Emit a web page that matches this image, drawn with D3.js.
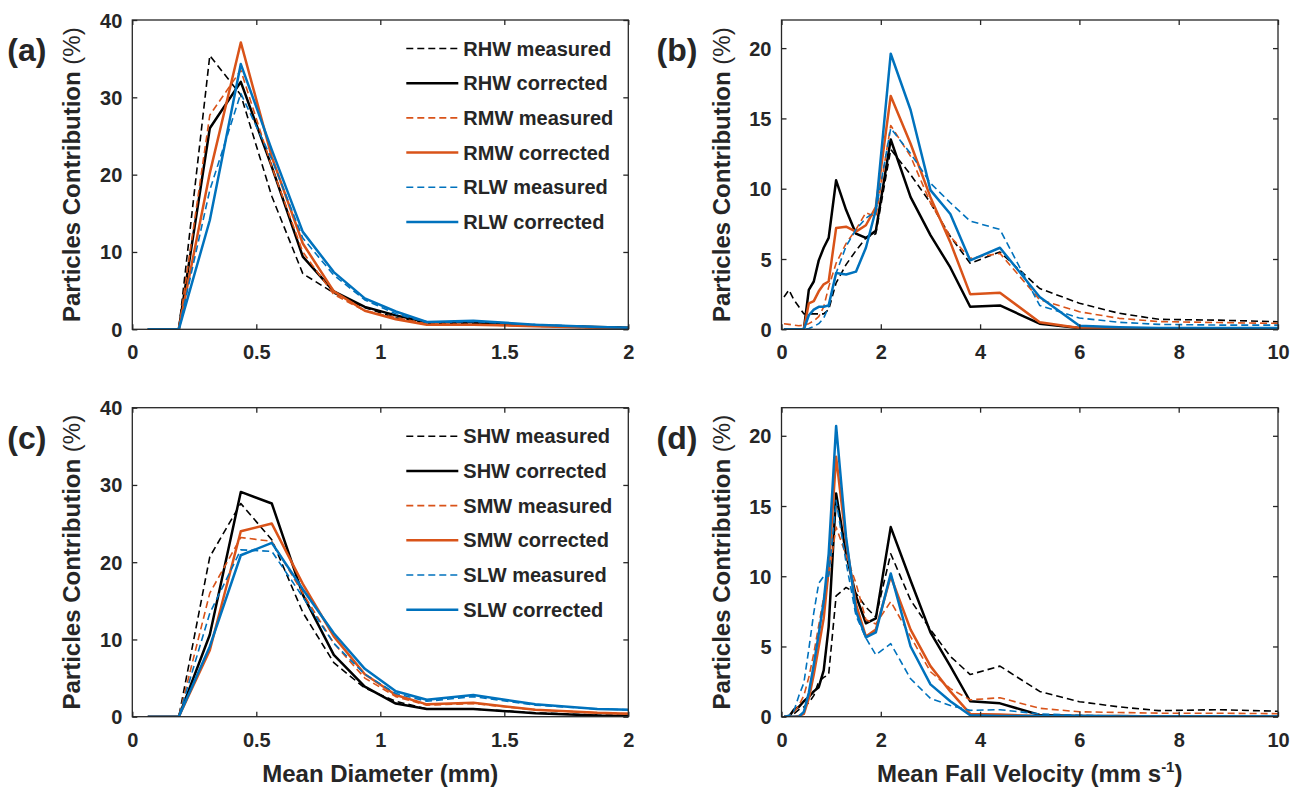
<!DOCTYPE html>
<html><head><meta charset="utf-8">
<script src="https://cdn.jsdelivr.net/npm/d3@7"></script>
<style>
html,body{margin:0;padding:0;background:#fff;}
svg text{font-family:Arial,"Liberation Sans",sans-serif;font-weight:bold;fill:#262626;}
</style></head>
<body>
<svg id="chart" width="1301" height="792"></svg>
<script>
// ---------- data ----------
const diameterClasses = [0.0625,0.1875,0.3125,0.4375,0.5625,0.6875,0.8125,0.9375,1.0625,1.1875,1.375,1.625,1.875,2.125];
const velocityClasses = [0.05,0.15,0.25,0.35,0.45,0.55,0.65,0.75,0.85,0.95,1.1,1.3,1.5,1.7,1.9,2.2,2.6,3.0,3.4,3.8,4.4,5.2,6.0,6.8,7.6,8.8,10.4];

const diameterTicks = [0,0.5,1,1.5,2];
const velocityTicks = [0,2,4,6,8,10];
const diameterYTicks = [0,10,20,30,40];
const velocityYTicks = [0,5,10,15,20];

// (a) rain, diameter
const rainNames = ["RHW measured","RHW corrected","RMW measured","RMW corrected","RLW measured","RLW corrected"];
const rhwMeasuredD  = [0,0,35.4,30.3,17.2,7.2,4.7,2.8,1.5,0.8,0.8,0.5,0.3,0.1];
const rhwCorrectedD = [0,0,26.0,32.0,21.0,9.4,4.9,2.9,1.8,0.9,0.9,0.5,0.3,0.1];
const rmwMeasuredD  = [0,0,27.7,33.5,21.0,10.0,4.5,2.4,1.5,0.7,0.6,0.4,0.2,0.1];
const rmwCorrectedD = [0,0,20.2,37.1,22.3,11.1,4.9,2.4,1.3,0.6,0.6,0.4,0.2,0.1];
const rlwMeasuredD  = [0,0,18.0,30.5,22.0,11.8,7.0,3.8,2.0,0.9,1.0,0.6,0.3,0.1];
const rlwCorrectedD = [0,0,14.1,34.3,23.2,12.6,7.4,4.0,2.3,0.95,1.1,0.6,0.3,0.1];

// (b) rain, fall velocity
const rhwMeasuredV  = [2.3,2.8,2.1,1.6,1.1,1.1,1.1,1.1,1.1,1.4,3.3,4.6,5.6,6.5,6.8,12.8,11.0,9.0,6.6,4.7,5.5,2.9,1.85,1.14,0.71,0.65,0.5];
const rhwCorrectedV = [0,0,0,0,0,2.8,3.4,4.9,5.8,6.5,10.6,8.5,6.8,6.5,7.0,13.5,9.4,6.7,4.4,1.6,1.7,0.4,0.1,0.05,0.05,0.05,0.05];
const rmwMeasuredV  = [0.4,0.35,0.3,0.25,0.3,0.4,0.6,0.9,1.6,3.0,4.7,6.1,7.1,8.3,8.0,14.5,12.3,9.0,6.6,5.05,5.4,2.1,1.25,0.78,0.55,0.48,0.4];
const rmwCorrectedV = [0,0,0,0,0,1.85,2.0,2.7,3.2,3.4,7.2,7.3,6.95,7.4,8.7,16.6,13.2,9.4,6.2,2.5,2.6,0.5,0.1,0.05,0.05,0.05,0.05];
const rlwMeasuredV  = [0,0,0,0,0,0.05,0.2,0.4,0.8,1.6,4.0,5.9,7.1,7.9,8.4,14.3,12.5,10.4,9.0,7.7,7.1,1.7,0.8,0.5,0.35,0.3,0.3];
const rlwCorrectedV = [0,0,0,0,0,1.0,1.4,1.6,1.6,1.7,4.0,3.9,4.1,5.8,8.5,19.6,15.6,9.9,8.2,4.9,5.8,2.3,0.25,0.15,0.1,0.1,0.1];

// (c) snow, diameter
const snowNames = ["SHW measured","SHW corrected","SMW measured","SMW corrected","SLW measured","SLW corrected"];
const shwMeasuredD  = [0,0,20.7,27.6,22.9,13.5,7.0,3.7,2.0,1.0,1.0,0.5,0.2,0.1];
const shwCorrectedD = [0,0,10.6,29.1,27.6,15.8,8.0,3.9,1.7,1.0,1.0,0.45,0.15,0.05];
const smwMeasuredD  = [0,0,16.0,23.2,22.7,16.0,9.5,5.0,2.6,1.5,1.7,0.9,0.5,0.3];
const smwCorrectedD = [0,0,8.6,24.0,25.0,17.2,10.4,5.5,2.8,1.6,1.8,0.9,0.5,0.3];
const slwMeasuredD  = [0,0,13.4,21.6,21.4,15.5,9.5,5.5,3.0,2.0,2.6,1.5,1.0,0.8];
const slwCorrectedD = [0,0,9.1,20.9,22.5,16.5,10.8,6.2,3.3,2.2,2.8,1.6,1.0,0.8];

// (d) snow, fall velocity
const shwMeasuredV  = [0,0,0.2,0.5,0.7,1.0,1.5,2.5,2.8,3.0,8.6,9.2,8.8,7.8,7.1,11.6,8.3,6.2,4.3,3.0,3.6,1.8,1.07,0.7,0.43,0.5,0.35];
const shwCorrectedV = [0,0,0.5,0.7,1.1,1.4,1.8,2.1,3.3,6.4,15.9,11.6,8.6,6.65,7.0,13.5,9.7,6.0,3.6,1.1,0.95,0.12,0.05,0.05,0.02,0.02,0.02];
const smwMeasuredV  = [0,0.1,0.3,0.8,1.5,2.8,4.5,6.5,8.5,10.0,13.5,11.5,9.5,6.9,6.6,8.2,5.7,3.2,2.0,1.2,1.35,0.6,0.35,0.3,0.25,0.25,0.2];
const smwCorrectedV = [0,0,0,0.05,0.2,1.3,3.0,5.0,7.0,10.5,18.5,12.5,8.0,5.7,6.2,10.0,6.2,3.6,1.8,0.2,0.15,0.05,0.05,0.02,0.02,0.02,0.02];
const slwMeasuredV  = [0,0.1,0.4,1.5,2.4,4.8,7.4,9.5,10.0,10.0,15.4,11.0,7.2,5.6,4.4,5.2,2.7,1.3,0.8,0.45,0.5,0.2,0.1,0.05,0.05,0.05,0.05];
const slwCorrectedV = [0,0,0,0,0.35,1.7,3.7,5.9,8.2,11.6,20.7,12.8,7.5,5.65,6.0,10.2,5.0,2.3,1.1,0.1,0.05,0.05,0.05,0.02,0.02,0.02,0.02];

// ---------- styles ----------
const seriesColors = ["#000000","#000000","#D95319","#D95319","#0072BD","#0072BD"];
const seriesDashed = [true,false,true,false,true,false];

const svg = d3.select("#chart");
const font = {tick:20, title:24, legend:20, panel:32};

const panels = [
  {id:"a", box:[132.3,628.3,20,329.3], xd:[0,2], yd:[0,40], xt:diameterTicks, yt:diameterYTicks, xs:diameterClasses,
   data:[rhwMeasuredD,rhwCorrectedD,rmwMeasuredD,rmwCorrectedD,rlwMeasuredD,rlwCorrectedD], names:rainNames, legend:true},
  {id:"b", box:[781.5,1278,20,329.3], xd:[0,10], yd:[0,22], xt:velocityTicks, yt:velocityYTicks, xs:velocityClasses,
   data:[rhwMeasuredV,rhwCorrectedV,rmwMeasuredV,rmwCorrectedV,rlwMeasuredV,rlwCorrectedV], names:rainNames, legend:false},
  {id:"c", box:[132.3,628.3,407.7,716.7], xd:[0,2], yd:[0,40], xt:diameterTicks, yt:diameterYTicks, xs:diameterClasses,
   data:[shwMeasuredD,shwCorrectedD,smwMeasuredD,smwCorrectedD,slwMeasuredD,slwCorrectedD], names:snowNames, legend:true, xtitle:"diam"},
  {id:"d", box:[781.5,1278,407.7,716.7], xd:[0,10], yd:[0,22], xt:velocityTicks, yt:velocityYTicks, xs:velocityClasses,
   data:[shwMeasuredV,shwCorrectedV,smwMeasuredV,smwCorrectedV,slwMeasuredV,slwCorrectedV], names:snowNames, legend:false, xtitle:"vel"}
];

const axisColor = "#262626";

panels.forEach(p => {
  const [L,R,T,B] = p.box;
  const x = d3.scaleLinear().domain(p.xd).range([L,R]);
  const y = d3.scaleLinear().domain(p.yd).range([B,T]);
  const g = svg.append("g");

  const clipId = "clip-"+p.id;
  svg.append("clipPath").attr("id",clipId).append("rect")
    .attr("x",L).attr("y",T-2).attr("width",R-L).attr("height",B-T+2);

  // lines
  const line = d3.line().x((d,i)=>x(p.xs[i])).y(d=>y(d));
  const lg = g.append("g").attr("clip-path","url(#"+clipId+")");
  p.data.forEach((s,k) => {
    lg.append("path").datum(s)
      .attr("d",line)
      .attr("fill","none")
      .attr("stroke",seriesColors[k])
      .attr("stroke-width",seriesDashed[k]?1.6:2.5)
      .attr("stroke-dasharray",seriesDashed[k]?"7,4":null)
      .attr("stroke-linejoin","round");
  });

  // box
  g.append("rect").attr("x",L).attr("y",T).attr("width",R-L).attr("height",B-T)
    .attr("fill","none").attr("stroke",axisColor).attr("stroke-width",1.3);

  // axes with inward ticks (mirrored)
  const tl = 5;
  const fmt = d3.format("~g");
  const xb = g.append("g").attr("transform",`translate(0,${B})`)
    .call(d3.axisBottom(x).tickValues(p.xt).tickSize(-tl).tickPadding(12).tickFormat(fmt));
  const xtop = g.append("g").attr("transform",`translate(0,${T})`)
    .call(d3.axisTop(x).tickValues(p.xt).tickSize(-tl).tickFormat(""));
  const yl = g.append("g").attr("transform",`translate(${L},0)`)
    .call(d3.axisLeft(y).tickValues(p.yt).tickSize(-tl).tickPadding(10).tickFormat(fmt));
  const yr = g.append("g").attr("transform",`translate(${R},0)`)
    .call(d3.axisRight(y).tickValues(p.yt).tickSize(-tl).tickFormat(""));
  [xb,xtop,yl,yr].forEach(a => {
    a.select(".domain").remove();
    a.selectAll(".tick line").attr("stroke",axisColor).attr("stroke-width",1.3);
    a.selectAll(".tick text").attr("font-size",font.tick).attr("fill",axisColor)
      .attr("font-family",'Arial,"Liberation Sans",sans-serif').attr("font-weight","bold");
  });
  xb.selectAll(".tick text").attr("dy","0.9em");
  yl.selectAll(".tick text").attr("dy","0.35em");

  // y title
  const ylab = g.append("text")
    .attr("transform",`translate(${L-52},${(T+B)/2}) rotate(-90)`)
    .attr("text-anchor","middle").attr("font-size",font.title);
  ylab.append("tspan").text("Particles Contribution ");
  ylab.append("tspan").attr("font-weight","normal").text("(%)");

  // panel label
  g.append("text").attr("x",L-125).attr("y",T+41).attr("font-size",font.panel).text("("+p.id+")");

  // x title
  if (p.xtitle==="diam") {
    g.append("text").attr("x",(L+R)/2).attr("y",782).attr("text-anchor","middle")
      .attr("font-size",font.title).text("Mean Diameter (mm)");
  } else if (p.xtitle==="vel") {
    const t = g.append("text").attr("x",(L+R)/2).attr("y",782).attr("text-anchor","middle")
      .attr("font-size",font.title);
    t.append("tspan").text("Mean Fall Velocity (mm s");
    t.append("tspan").attr("font-size",15).attr("dy",-10).text("-1");
    t.append("tspan").attr("dy",10).text(")");
  }

  // legend
  if (p.legend) {
    const lx0 = L+274, lx1 = L+326, tx = L+331;
    p.names.forEach((n,k) => {
      const yy = T + 28.5 + k*34.7;
      g.append("line").attr("x1",lx0).attr("x2",lx1).attr("y1",yy).attr("y2",yy)
        .attr("stroke",seriesColors[k])
        .attr("stroke-width",seriesDashed[k]?1.6:2.5)
        .attr("stroke-dasharray",seriesDashed[k]?"7,4":null);
      g.append("text").attr("x",tx).attr("y",yy).attr("dy","0.35em")
        .attr("font-size",font.legend).attr("fill","#000").text(n);
    });
  }
});
</script>
</body></html>
